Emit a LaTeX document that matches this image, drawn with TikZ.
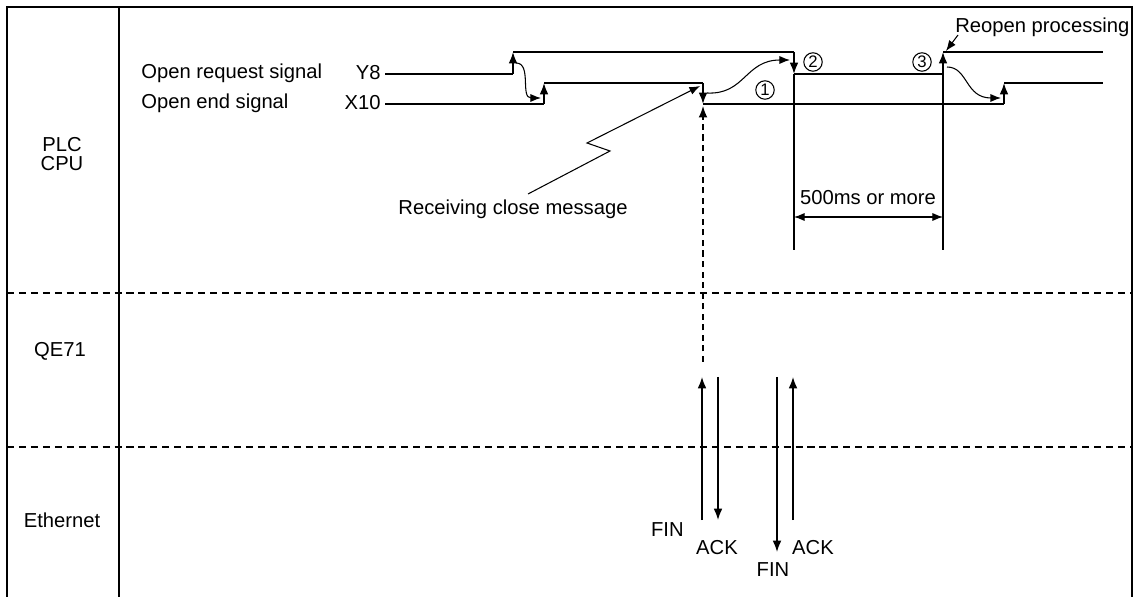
\documentclass[tikz,border=0pt]{standalone}
\usepackage{fontspec}
\setmainfont{Liberation Sans}
\usepackage{tikz}
\usetikzlibrary{arrows.meta}
\tikzset{
  wave/.style      = {line width=0.9pt},
  edgearr/.style   = {-{Latex[length=6.5pt,width=5pt]},line width=0.9pt},
  bendarr/.style   = {-{Latex[length=6pt,width=4.6pt]},line width=0.6pt},
  dimarr/.style    = {{Latex[length=6pt,width=4.6pt]}-{Latex[length=6pt,width=4.6pt]},line width=0.6pt},
  frameline/.style = {line width=0.7pt},
  sepline/.style   = {dash pattern=on 4pt off 2.8pt,line width=0.7pt},
  lbl/.style       = {font=\fontsize{11.5}{13}\selectfont,inner sep=0pt},
  numcirc/.style   = {circle,draw,line width=0.6pt,minimum size=10.5pt,inner sep=0pt,
                      font=\fontsize{9.5}{9.5}\selectfont}
}

\begin{document}
\begin{tikzpicture}[x=0.02cm,y=-0.02cm]
  \useasboundingbox (0,0) rectangle (1142,597);
  % frame and rows
  \draw[frameline] (7,597) -- (7,7) -- (1132,7) -- (1132,597);
  \draw[frameline] (119,7) -- (119,597);
  \draw[sepline] (7,293) -- (1132,293);
  \draw[sepline] (7,447) -- (1132,447);
  \node[lbl] (plc) at (62,145) {PLC};
  \node[lbl] (cpu) at (62,164) {CPU};
  \node[lbl] (qe)  at (60,351) {QE71};
  \node[lbl] (eth) at (62,520) {Ethernet};

  % signal names
  \node[lbl,anchor=west] (reqname) at (141,73)  {Open request signal};
  \node[lbl,anchor=west] (endname) at (141,103) {Open end signal};
  \node[lbl,anchor=east] (y8)  at (381,73)  {Y8};
  \node[lbl,anchor=east] (x10) at (381,103) {X10};

  % Y8
  \draw[wave] (385,74) -- (513,74);
  \draw[edgearr] (513,74) -- (513,52);
  \draw[wave] (513,52) -- (794,52);
  \draw[edgearr] (794,52) -- (794,74);
  \draw[wave] (794,74) -- (943,74);
  \draw[edgearr] (943,74) -- (943,52);
  \draw[wave] (943,52) -- (1103,52);
  % X10
  \draw[wave] (385,104) -- (544,104);
  \draw[edgearr] (544,104) -- (544,83);
  \draw[wave] (544,83) -- (703,83);
  \draw[edgearr] (703,83) -- (703,104);
  \draw[wave] (703,104) -- (1004,104);
  \draw[edgearr] (1004,104) -- (1004,83);
  \draw[wave] (1004,83) -- (1103,83);

  % cause arrows
  \draw[bendarr] (516,63) .. controls (532,63) and (520,98) .. (541,98);
  \draw[bendarr] (707,93) .. controls (745,95) and (745,60) .. (790,60);
  \draw[bendarr] (947,67) .. controls (968,67) and (965,98) .. (1001,98);
  \node[numcirc] (c1) at (765,90) {1};
  \node[numcirc] (c2) at (813,62) {2};
  \node[numcirc] (c3) at (922,62) {3};
  \node[lbl,anchor=west] (reopen) at (955,27) {Reopen processing};
  \draw[bendarr] (958,35) -- (946,51);

  % close message
  \node[lbl] (recv) at (513,209) {Receiving close message};
  \draw[bendarr] (528,194) -- (610,151) -- (587,143) -- (700,86);
  \draw[edgearr,line width=0.7pt,dash pattern=on 3.5pt off 2.5pt] (703,362) -- (703,106);

  % 500ms
  \draw[wave] (794,74) -- (794,250);
  \draw[wave] (943,74) -- (943,250);
  \coordinate (tA) at (794,217);
  \coordinate (tB) at (943,217);
  \draw[dimarr] (tA) -- (tB);
  \node[lbl] (wait) at (868,198) {500ms or more};

  % FIN / ACK
  \coordinate (finAlo) at (702,520);  \coordinate (finAhi) at (702,377);
  \coordinate (ackAhi) at (718,377);  \coordinate (ackAlo) at (718,520);
  \coordinate (finBhi) at (777,377);  \coordinate (finBlo) at (777,552);
  \coordinate (ackBlo) at (793,520);  \coordinate (ackBhi) at (793,377);
  \draw[edgearr,line width=0.8pt] (finAlo) -- (finAhi);
  \draw[edgearr,line width=0.8pt] (ackAhi) -- (ackAlo);
  \draw[edgearr,line width=0.8pt] (finBhi) -- (finBlo);
  \draw[edgearr,line width=0.8pt] (ackBlo) -- (ackBhi);
  \node[lbl,anchor=east] (finA) at (684,530) {FIN};
  \node[lbl] (ackA) at (717,548) {ACK};
  \node[lbl] (finB) at (773,570) {FIN};
  \node[lbl] (ackB) at (813,548) {ACK};
\end{tikzpicture}
\end{document}
